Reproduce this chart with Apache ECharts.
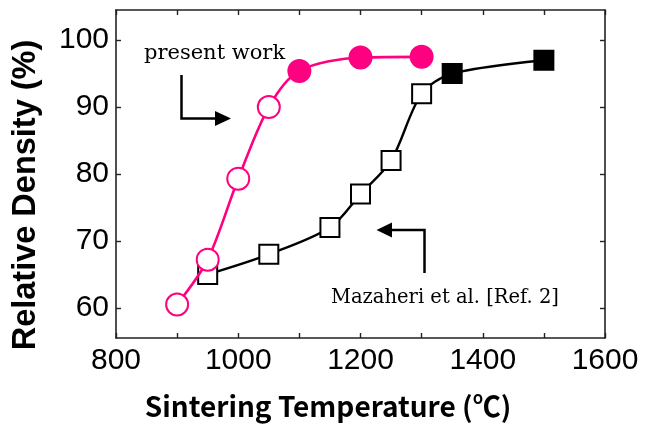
<!DOCTYPE html>
<html>
<head>
<meta charset="utf-8">
<script src="https://cdn.jsdelivr.net/npm/echarts@6/dist/echarts.min.js"></script>
<style>
  html, body { margin: 0; padding: 0; background: #fff; }
  #chart { width: 646px; height: 428px; }
</style>
</head>
<body>
<div id="chart"></div>
<script>
// ---- data ----
const presentTemps = [900, 950, 1000, 1050, 1100, 1200, 1300];
const presentDensity = [60.5, 67.2, 79.3, 90.0, 95.4, 97.4, 97.5];
const presentFilled = [false, false, false, false, true, true, true];

const refTemps = [950, 1050, 1150, 1200, 1250, 1300, 1350, 1500];
const refDensity = [65.0, 68.0, 72.0, 77.0, 82.0, 92.0, 95.0, 97.0];
const refFilled = [false, false, false, false, false, false, true, true];

const xTickLabels = [800, 1000, 1200, 1400, 1600];
const yTickLabels = [60, 70, 80, 90, 100];

const xTitle = 'Sintering Temperature (℃)';
const yTitle = 'Relative Density (%)';
const presentLabel = 'present work';
const refLabel = 'Mazaheri et al. [Ref. 2]';

// ---- chart ----
const PINK = '#ff0080';
const chart = echarts.init(document.getElementById('chart'));

const axisLineStyle = { lineStyle: { color: '#222', width: 1.6 } };
const tickStyle = { inside: true, length: 5, lineStyle: { color: '#222', width: 1.4 } };
const plain = v => String(v);

const presentData = presentTemps.map((t, i) => ({
  value: [t, presentDensity[i]],
  itemStyle: presentFilled[i]
    ? { color: PINK, borderColor: PINK, borderWidth: 2 }
    : { color: '#ffffff', borderColor: PINK, borderWidth: 2 }
}));
const refData = refTemps.map((t, i) => ({
  value: [t, refDensity[i]],
  itemStyle: refFilled[i]
    ? { color: '#000', borderColor: '#000', borderWidth: 2 }
    : { color: '#ffffff', borderColor: '#000', borderWidth: 2 }
}));

chart.setOption({
  backgroundColor: '#fff',
  animation: false,
  grid: { left: 116, right: 41, top: 10, bottom: 90, containLabel: false },
  xAxis: [
    {
      type: 'value', position: 'bottom', min: 800, max: 1600, interval: 100,
      axisLine: axisLineStyle, axisTick: tickStyle, splitLine: { show: false },
      axisLabel: {
        customValues: xTickLabels, margin: 8, formatter: plain,
        fontFamily: 'Liberation Sans', fontSize: 30, color: '#000'
      }
    },
    {
      type: 'value', position: 'top', min: 800, max: 1600, interval: 100,
      axisLine: axisLineStyle, axisTick: tickStyle, splitLine: { show: false },
      axisLabel: { show: false }
    }
  ],
  yAxis: [
    {
      type: 'value', position: 'left', min: 55.5, max: 104.5,
      axisLine: { show: true, ...axisLineStyle },
      axisTick: { ...tickStyle, customValues: yTickLabels },
      splitLine: { show: false },
      axisLabel: {
        customValues: yTickLabels, margin: 7, formatter: plain,
        fontFamily: 'Liberation Sans', fontSize: 30, color: '#000'
      }
    },
    {
      type: 'value', position: 'right', min: 55.5, max: 104.5,
      axisLine: { show: true, ...axisLineStyle },
      axisTick: { ...tickStyle, customValues: yTickLabels },
      splitLine: { show: false },
      axisLabel: { show: false }
    }
  ],
  series: [
    {
      type: 'line', name: refLabel, data: refData, smooth: 0.3,
      symbol: 'rect', symbolSize: 19,
      lineStyle: { color: '#000', width: 2.4 }, z: 2
    },
    {
      type: 'line', name: presentLabel, data: presentData, smooth: 0.3,
      symbol: 'circle', symbolSize: 22,
      lineStyle: { color: PINK, width: 2.6 }, z: 3
    }
  ],
  graphic: [
    {
      type: 'text', x: 328, y: 406,
      style: { text: xTitle, fontFamily: 'Noto Sans CJK JP', fontWeight: 'bold', fontSize: 28,
               fill: '#000', textAlign: 'center', textVerticalAlign: 'middle' }
    },
    {
      type: 'text', x: 26, y: 195, rotation: Math.PI / 2,
      style: { text: yTitle, fontFamily: 'Liberation Sans', fontWeight: 'bold', fontSize: 32.5,
               fill: '#000', textAlign: 'center', textVerticalAlign: 'middle' }
    },
    {
      type: 'text', x: 144, y: 54,
      style: { text: presentLabel, fontFamily: 'DejaVu Serif', fontSize: 21,
               fill: '#000', textAlign: 'left', textVerticalAlign: 'middle' }
    },
    {
      type: 'text', x: 331, y: 298,
      style: { text: refLabel, fontFamily: 'DejaVu Serif', fontSize: 19.5,
               fill: '#000', textAlign: 'left', textVerticalAlign: 'middle' }
    },
    {
      type: 'polyline',
      shape: { points: [[181.5, 75], [181.5, 118.5], [218, 118.5]] },
      style: { stroke: '#000', lineWidth: 2.5, fill: null }
    },
    {
      type: 'polygon',
      shape: { points: [[215, 111], [231, 118.5], [215, 126]] },
      style: { fill: '#000' }
    },
    {
      type: 'polyline',
      shape: { points: [[424.5, 273], [424.5, 230], [389, 230]] },
      style: { stroke: '#000', lineWidth: 2.5, fill: null }
    },
    {
      type: 'polygon',
      shape: { points: [[392, 222.5], [376.5, 230], [392, 237.5]] },
      style: { fill: '#000' }
    }
  ]
});
</script>
</body>
</html>
